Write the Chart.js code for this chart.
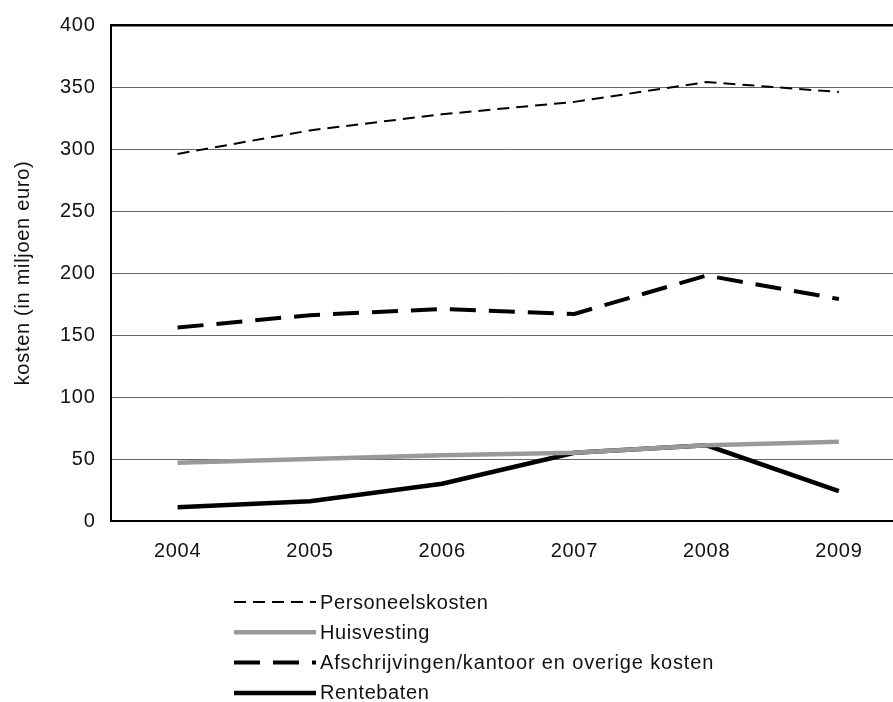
<!DOCTYPE html>
<html>
<head>
<meta charset="utf-8">
<script src="https://cdn.jsdelivr.net/npm/chart.js@4.4.0/dist/chart.umd.min.js"></script>
<style>
  html, body { margin: 0; padding: 0; background: #fff; overflow: hidden; }
  #wrap { width: 893px; height: 702px; overflow: hidden; }
  #chart { display: block; margin-top: -3px; }
</style>
</head>
<body>
<div id="wrap"><canvas id="chart" width="905" height="705"></canvas></div>
<script>
// Data
const years = ['2004', '2005', '2006', '2007', '2008', '2009'];
const personeelskosten = [296, 315, 328, 338, 354, 346];
const huisvesting = [47, 50, 53, 55, 61, 64];
const afschrijvingen = [156, 166, 171, 167, 198, 179];
const rentebaten = [11, 16, 30, 55, 61, 24];
const yTicks = [0, 50, 100, 150, 200, 250, 300, 350, 400];

const FONT = 'Liberation Sans, Arial, sans-serif';

// legend drawn as a vertical list under the plot
const legendList = {
    id: 'legendList',
    afterDraw(chart) {
        const ctx = chart.ctx;
        ctx.save();
        chart.data.datasets.forEach((ds, i) => {
            const y = 605 + i * 30.3;
            ctx.beginPath();
            ctx.setLineDash(ds.borderDash || []);
            ctx.lineWidth = ds.borderWidth;
            ctx.strokeStyle = ds.borderColor;
            ctx.lineCap = 'butt';
            ctx.moveTo(234, y);
            ctx.lineTo(316, y);
            ctx.stroke();
            ctx.setLineDash([]);
            ctx.fillStyle = '#111';
            ctx.font = '20px ' + FONT;
            ctx.letterSpacing = ds.spacing || '0.6px';
            ctx.textBaseline = 'middle';
            ctx.fillText(ds.label, 320, y + 1);
        });
        ctx.restore();
    }
};

const spacingPlugin = {
    id: 'spacing',
    beforeUpdate(chart) { chart.ctx.letterSpacing = '0.7px'; }
};

new Chart(document.getElementById('chart'), {
    type: 'line',
    data: {
        labels: years,
        datasets: [
            { label: 'Personeelskosten', data: personeelskosten, borderColor: '#000', borderWidth: 2, borderDash: [12, 7] },
            { label: 'Huisvesting', data: huisvesting, borderColor: '#999', borderWidth: 4.5 },
            { label: 'Afschrijvingen/kantoor en overige kosten', data: afschrijvingen, borderColor: '#000', borderWidth: 4, borderDash: [26, 13], spacing: '0.85px' },
            { label: 'Rentebaten', data: rentebaten, borderColor: '#000', borderWidth: 4.5 }
        ]
    },
    options: {
        responsive: false,
        animation: false,
        elements: {
            point: { radius: 0 },
            line: { tension: 0, borderCapStyle: 'butt', borderJoinStyle: 'miter' }
        },
        layout: { padding: { top: 8, left: 7, right: 0, bottom: 129 } },
        plugins: {
            legend: { display: false },
            tooltip: { enabled: false }
        },
        scales: {
            x: {
                offset: true,
                grid: { display: false },
                border: { color: '#000', width: 2 },
                ticks: { color: '#111', font: { family: FONT, size: 20 }, padding: 10, maxRotation: 0 }
            },
            y: {
                min: 0,
                max: 400,
                afterBuildTicks(axis) { axis.ticks = yTicks.map(v => ({ value: v })); },
                grid: {
                    color: c => c.tick && c.tick.value === 400 ? '#000' : '#666',
                    lineWidth: c => c.tick && c.tick.value === 400 ? 2.5 : 1,
                    drawTicks: false
                },
                border: { color: '#000', width: 2 },
                ticks: { color: '#111', font: { family: FONT, size: 20 }, padding: 16 },
                title: {
                    display: true,
                    text: 'kosten (in miljoen euro)',
                    color: '#111',
                    font: { family: FONT, size: 20 },
                    padding: { bottom: 9 }
                }
            }
        }
    },
    plugins: [spacingPlugin, legendList]
});
</script>
</body>
</html>
